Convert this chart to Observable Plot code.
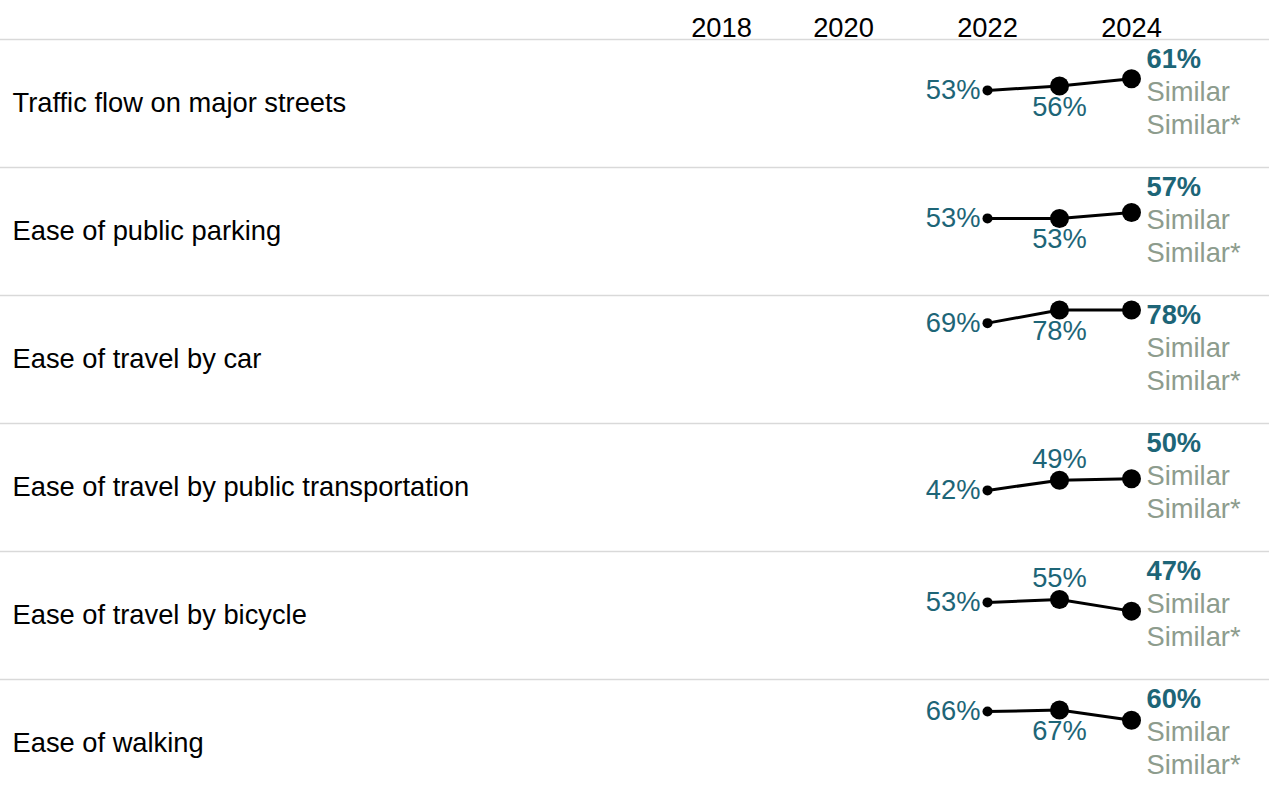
<!DOCTYPE html>
<html>
<head>
<meta charset="utf-8">
<script src="https://cdn.jsdelivr.net/npm/d3@7"></script>
<script src="https://cdn.jsdelivr.net/npm/@observablehq/plot@0.6"></script>
<style>
  html, body { margin: 0; padding: 0; background: #fff; overflow: hidden; }
</style>
</head>
<body>
<div id="chart"></div>
<script>
const categories = [
  "Traffic flow on major streets",
  "Ease of public parking",
  "Ease of travel by car",
  "Ease of travel by public transportation",
  "Ease of travel by bicycle",
  "Ease of walking"
];
const years = [2022, 2023, 2024];
const values2022 = [53, 53, 69, 42, 53, 66];
const values2023 = [56, 53, 78, 49, 55, 67];
const values2024 = [61, 57, 78, 50, 47, 60];
const midLabelSide = ["below", "below", "below", "above", "above", "below"];
const comparison1 = ["Similar", "Similar", "Similar", "Similar", "Similar", "Similar"];
const comparison2 = ["Similar*", "Similar*", "Similar*", "Similar*", "Similar*", "Similar*"];
const tickYears = [2018, 2020, 2022, 2024];

const TEAL = "#1d6577";
const GRAY = "#8d9c8d";
const FS = "27.3px";

const series = [values2022, values2023, values2024];
const data = [];
categories.forEach((c, i) => {
  years.forEach((yr, j) => {
    data.push({category: c, year: yr, value: series[j][i], side: midLabelSide[i], idx: i});
  });
});
const d22 = data.filter(d => d.year === 2022);
const d23 = data.filter(d => d.year === 2023);
const d24 = data.filter(d => d.year === 2024);
const big = data.filter(d => d.year !== 2022);

const chart = Plot.plot({
  width: 1269,
  height: 807,
  marginTop: 39,
  marginLeft: 0,
  marginRight: 0,
  marginBottom: 0,
  style: {fontFamily: "'Liberation Sans', Arial, sans-serif", fontSize: FS, color: "#000", background: "#fff"},
  x: {type: "linear", domain: [2018, 2020, 2024], range: [721, 843, 1131], axis: null},
  y: {domain: [0, 88], axis: null},
  fy: {domain: categories, axis: null, padding: 0},
  marks: [
    Plot.axisX({anchor: "top", ticks: tickYears, tickSize: 0, tickPadding: 3, tickFormat: d => String(d), label: null, fontSize: FS, fill: "#000"}),
    Plot.frame({anchor: "top", stroke: "#d9d9d9", strokeWidth: 1.5}),
    Plot.text(categories, {fy: d => d, text: d => d, frameAnchor: "left", dx: 12, textAnchor: "start", fill: "#000"}),
    Plot.line(data, {x: "year", y: "value", fy: "category", stroke: "#000", strokeWidth: 3}),
    Plot.dot(d22, {x: "year", y: "value", fy: "category", r: 5, fill: "#000"}),
    Plot.dot(big, {x: "year", y: "value", fy: "category", r: 9.5, fill: "#000"}),
    Plot.text(d22, {x: "year", y: "value", fy: "category", text: d => d.value + "%", textAnchor: "end", dx: -7, fill: TEAL}),
    Plot.text(d23.filter(d => d.side === "below"), {x: "year", y: "value", fy: "category", text: d => d.value + "%", dy: 21, fill: TEAL}),
    Plot.text(d23.filter(d => d.side === "above"), {x: "year", y: "value", fy: "category", text: d => d.value + "%", dy: -21, fill: TEAL}),
    Plot.text(d24, {x: "year", fy: "category", frameAnchor: "top", lineAnchor: "middle", text: d => d.value + "%", textAnchor: "start", dx: 15, dy: 20, fontWeight: "bold", fill: TEAL}),
    Plot.text(d24, {x: "year", fy: "category", frameAnchor: "top", lineAnchor: "middle", text: d => comparison1[d.idx], textAnchor: "start", dx: 15, dy: 53, fill: GRAY}),
    Plot.text(d24, {x: "year", fy: "category", frameAnchor: "top", lineAnchor: "middle", text: d => comparison2[d.idx], textAnchor: "start", dx: 15, dy: 86, fill: GRAY})
  ]
});
document.getElementById("chart").appendChild(chart);
</script>
</body>
</html>
